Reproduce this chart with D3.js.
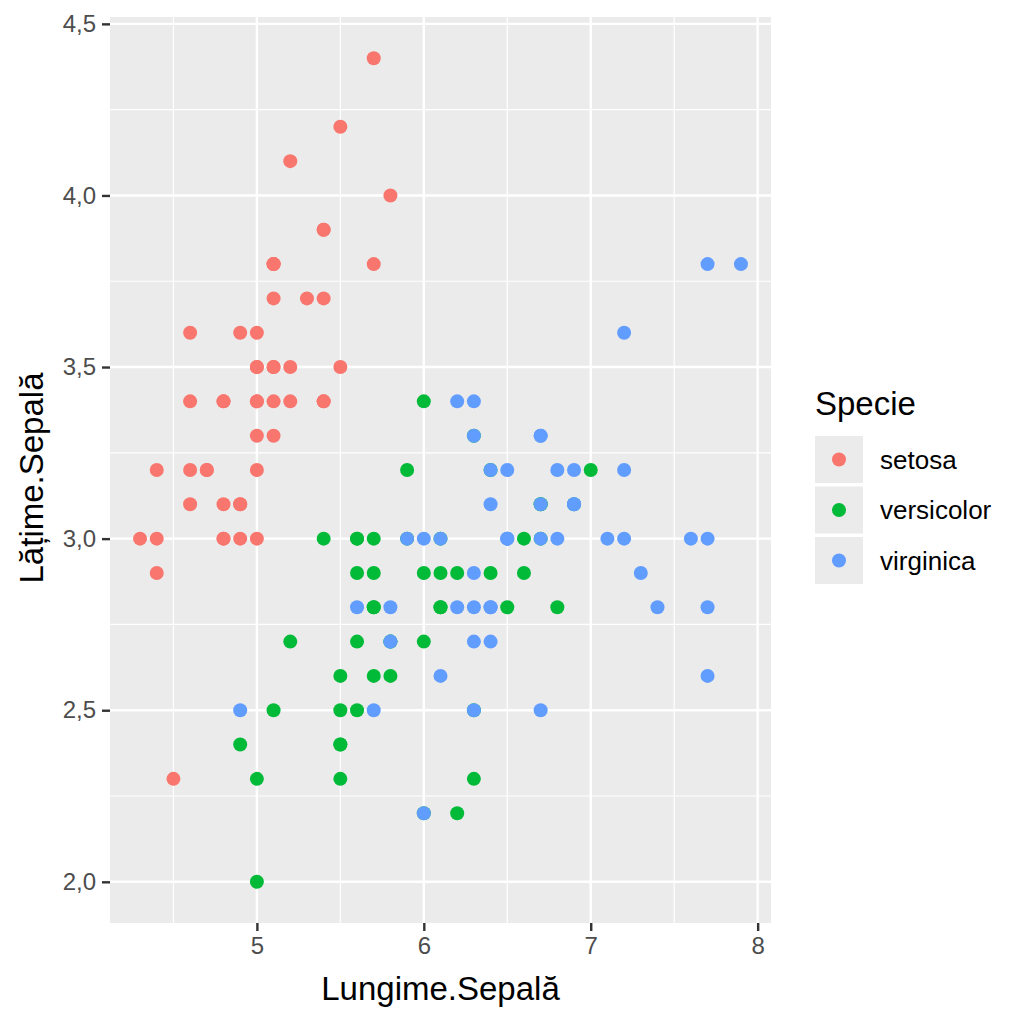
<!DOCTYPE html>
<html><head><meta charset="utf-8">
<script src="https://cdn.jsdelivr.net/npm/d3@7"></script>
<style>body{margin:0;background:#fff}svg{font-family:"Liberation Sans",Arial,sans-serif}</style>
</head><body><svg id="c" width="1024" height="1024"></svg>
<script>
const species = ["setosa","versicolor","virginica"];
const colors = ["#F8766D","#00BA38","#619CFF"];
const setosaLength = [5.1,4.9,4.7,4.6,5.0,5.4,4.6,5.0,4.4,4.9,5.4,4.8,4.8,4.3,5.8,5.7,5.4,5.1,5.7,5.1,5.4,5.1,4.6,5.1,4.8,5.0,5.0,5.2,5.2,4.7,4.8,5.4,5.2,5.5,4.9,5.0,5.5,4.9,4.4,5.1,5.0,4.5,4.4,5.0,5.1,4.8,5.1,4.6,5.3,5.0];
const setosaWidth  = [3.5,3.0,3.2,3.1,3.6,3.9,3.4,3.4,2.9,3.1,3.7,3.4,3.0,3.0,4.0,4.4,3.9,3.5,3.8,3.8,3.4,3.7,3.6,3.3,3.4,3.0,3.4,3.5,3.4,3.2,3.1,3.4,4.1,4.2,3.1,3.2,3.5,3.6,3.0,3.4,3.5,2.3,3.2,3.5,3.8,3.0,3.8,3.2,3.7,3.3];
const versicolorLength = [7.0,6.4,6.9,5.5,6.5,5.7,6.3,4.9,6.6,5.2,5.0,5.9,6.0,6.1,5.6,6.7,5.6,5.8,6.2,5.6,5.9,6.1,6.3,6.1,6.4,6.6,6.8,6.7,6.0,5.7,5.5,5.5,5.8,6.0,5.4,6.0,6.7,6.3,5.6,5.5,5.5,6.1,5.8,5.0,5.6,5.7,5.7,6.2,5.1,5.7];
const versicolorWidth  = [3.2,3.2,3.1,2.3,2.8,2.8,3.3,2.4,2.9,2.7,2.0,3.0,2.2,2.9,2.9,3.1,3.0,2.7,2.2,2.5,3.2,2.8,2.5,2.8,2.9,3.0,2.8,3.0,2.9,2.6,2.4,2.4,2.7,2.7,3.0,3.4,3.1,2.3,3.0,2.5,2.6,3.0,2.6,2.3,2.7,3.0,2.9,2.9,2.5,2.8];
const virginicaLength = [6.3,5.8,7.1,6.3,6.5,7.6,4.9,7.3,6.7,7.2,6.5,6.4,6.8,5.7,5.8,6.4,6.5,7.7,7.7,6.0,6.9,5.6,7.7,6.3,6.7,7.2,6.2,6.1,6.4,7.2,7.4,7.9,6.4,6.3,6.1,7.7,6.3,6.4,6.0,6.9,6.7,6.9,5.8,6.8,6.7,6.7,6.3,6.5,6.2,5.9];
const virginicaWidth  = [3.3,2.7,3.0,2.9,3.0,3.0,2.5,2.9,2.5,3.6,3.2,2.7,3.0,2.5,2.8,3.2,3.0,3.8,2.6,2.2,3.2,2.8,2.8,2.7,3.3,3.2,2.8,3.0,2.8,3.0,2.8,3.8,2.8,2.8,2.6,3.0,3.4,3.1,3.0,3.1,3.1,3.1,2.7,3.2,3.3,3.0,2.5,3.0,3.4,3.0];
const xTicks = [5,6,7,8];
const yTicks = [2.0,2.5,3.0,3.5,4.0,4.5];
const xMinor = [4.5,5.5,6.5,7.5];
const yMinor = [2.25,2.75,3.25,3.75,4.25];

const lengths = [setosaLength, versicolorLength, virginicaLength];
const widths = [setosaWidth, versicolorWidth, virginicaWidth];
const data = [];
species.forEach((s,i)=>lengths[i].forEach((v,j)=>data.push({s, i, x:v, y:widths[i][j]})));

const svg = d3.select("#c");
const L=110, R=771, T=17, B=923;
const x = d3.scaleLinear().domain([4.12,8.08]).range([L,R]);
const y = d3.scaleLinear().domain([1.88,4.52]).range([B,T]);

svg.append("rect").attr("x",L).attr("y",T).attr("width",R-L).attr("height",B-T).attr("fill","#EBEBEB");
const g = svg.append("g");
g.selectAll(".xm").data(xMinor).join("line").attr("x1",d=>x(d)).attr("x2",d=>x(d)).attr("y1",T).attr("y2",B).attr("stroke","#fff").attr("stroke-width",1.2);
g.selectAll(".ym").data(yMinor).join("line").attr("y1",d=>y(d)).attr("y2",d=>y(d)).attr("x1",L).attr("x2",R).attr("stroke","#fff").attr("stroke-width",1.2);
g.selectAll(".xM").data(xTicks).join("line").attr("x1",d=>x(d)).attr("x2",d=>x(d)).attr("y1",T).attr("y2",B).attr("stroke","#fff").attr("stroke-width",2.4);
g.selectAll(".yM").data(yTicks).join("line").attr("y1",d=>y(d)).attr("y2",d=>y(d)).attr("x1",L).attr("x2",R).attr("stroke","#fff").attr("stroke-width",2.4);

const fmt = d=>d3.format(".1f")(d).replace(".",",");
const xa = svg.append("g").attr("transform",`translate(0,${B})`).call(d3.axisBottom(x).tickValues(xTicks).tickSize(8).tickPadding(6).tickFormat(d3.format("d")));
const ya = svg.append("g").attr("transform",`translate(${L},0)`).call(d3.axisLeft(y).tickValues(yTicks).tickSize(8).tickPadding(6).tickFormat(fmt));
[xa,ya].forEach(a=>{a.select(".domain").remove();a.selectAll("line").attr("stroke","#333").attr("stroke-width",2.4);a.selectAll("text").attr("fill","#4D4D4D").attr("font-size",24).attr("font-family","Liberation Sans, Arial, sans-serif");});

svg.append("g").selectAll("circle").data(data).join("circle")
  .attr("cx",d=>x(d.x)).attr("cy",d=>y(d.y)).attr("r",7).attr("fill",d=>colors[d.i]);

svg.append("text").attr("x",(L+R)/2).attr("y",1000).attr("text-anchor","middle").attr("font-size",33).attr("fill","#000").text("Lungime.Sepală");
svg.append("text").attr("transform",`translate(43,${(T+B)/2+8}) rotate(-90)`).attr("text-anchor","middle").attr("font-size",33).attr("fill","#000").text("Lățime.Sepală");

const lg = svg.append("g");
lg.append("text").attr("x",815).attr("y",415).attr("font-size",33).attr("fill","#000").text("Specie");
species.forEach((s,i)=>{
  const ky = 436 + i*50.5;
  lg.append("rect").attr("x",815).attr("y",ky).attr("width",48).attr("height",47).attr("fill","#EBEBEB");
  lg.append("circle").attr("cx",839).attr("cy",ky+23.5).attr("r",7).attr("fill",colors[i]);
  lg.append("text").attr("x",880).attr("y",ky+23.5).attr("dy","0.35em").attr("font-size",26).attr("fill","#000").text(s);
});
</script></body></html>
